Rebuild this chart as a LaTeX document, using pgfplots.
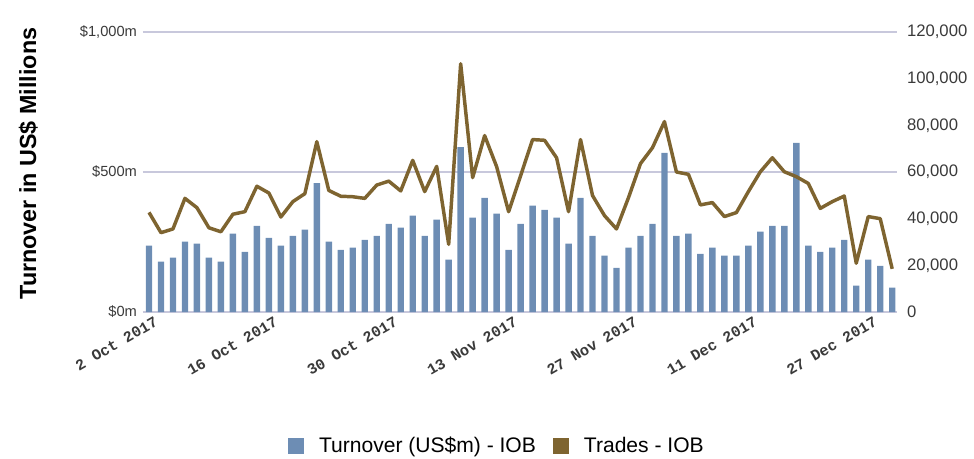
\documentclass[border=0pt]{standalone}
\usepackage{fontspec}
\setmainfont{Liberation Sans}
\newfontfamily\monob{Liberation Mono}
\usepackage{pgfplots}
\pgfplotsset{compat=1.18}
\usepackage{pgfplotstable}

\definecolor{cBar}{HTML}{6D8DB4}
\definecolor{cLine}{HTML}{7E6430}
\definecolor{cGrid}{HTML}{C8C8DC}
\definecolor{cTick}{HTML}{3A3A3A}

% turnover (US$m), one row per trading day from 2 Oct 2017
\pgfplotstableread{
x y
0 237
1 180
2 194
3 251
4 244
5 194
6 180
7 280
8 215
9 308
10 265
11 237
12 272
13 294
14 460
15 251
16 222
17 230
18 258
19 272
20 315
21 301
22 344
23 272
24 330
25 187
26 589
27 337
28 408
29 351
30 222
31 315
32 380
33 365
34 337
35 244
36 408
37 272
38 201
39 158
40 230
41 272
42 315
43 568
44 272
45 280
46 208
47 230
48 201
49 201
50 237
51 287
52 308
53 308
54 604
55 237
56 215
57 230
58 258
59 94
60 187
61 165
62 87
}\turnover

% number of trades
\pgfplotstableread{
x y
0 42700
1 34000
2 35600
3 48700
4 44700
5 36100
6 34400
7 41900
8 43000
9 53900
10 51000
11 40700
12 47300
13 50700
14 73000
15 52100
16 49600
17 49400
18 48700
19 54400
20 56100
21 51900
22 65000
23 51600
24 62400
25 29000
26 106400
27 57600
28 75600
29 62300
30 43000
31 58400
32 73900
33 73600
34 66100
35 43000
36 73900
37 49900
38 41300
39 35600
40 49000
41 63600
42 70400
43 81600
44 60000
45 59000
46 45900
47 46900
48 40900
49 42600
50 51600
51 60100
52 66100
53 60100
54 58000
55 55100
56 44400
57 47300
58 49700
59 20900
60 40900
61 40000
62 18500
}\trades

\begin{document}
\begin{tikzpicture}
  \pgfplotsset{
    base/.style={
      scale only axis, width=565.5pt, height=210pt,
      at={(0,0)}, anchor=south west,
      xmin=-0.5, xmax=62.4,
      axis line style={draw=none}, major tick length=0pt,
      tick label style={font=\fontsize{11}{13}\selectfont, text=cTick},
    },
  }
  \begin{axis}[base,
      ymin=0, ymax=1000,
      ytick={0,500,1000}, yticklabels={\$0m,\$500m,{\$1,000m}},
      ymajorgrids, grid style={cGrid, line width=1pt},
      yticklabel style={xshift=-1pt},
      ylabel={\bfseries Turnover in US\$ Millions},
      ylabel style={at={(axis description cs:-0.152,0.53)}, anchor=center,
                    font=\fontsize{17.5}{19}\selectfont},
      xtick={0,10,20,30,40,50,60},
      xticklabels={2 Oct 2017,16 Oct 2017,30 Oct 2017,13 Nov 2017,
                   27 Nov 2017,11 Dec 2017,27 Dec 2017},
      xticklabel style={rotate=30, anchor=north east, xshift=5pt, yshift=-1pt,
                        font=\monob\bfseries\fontsize{11.5}{13}\selectfont, text=cTick},
    ]
    \addplot[ybar, bar width=4.8pt, fill=cBar, draw=none] table {\turnover};
  \end{axis}
  \begin{axis}[base,
      ymin=0, ymax=120000,
      axis y line*=right, axis x line=none,
      scaled y ticks=false,
      ytick={0,20000,40000,60000,80000,100000,120000},
      yticklabels={0,{20,000},{40,000},{60,000},{80,000},{100,000},{120,000}},
      yticklabel style={anchor=west, xshift=4pt, font=\fontsize{12.5}{14}\selectfont},
      xtick=\empty,
      legend style={at={(axis description cs:0.47,0)}, anchor=center,
                    yshift=-100.5pt, draw=none, fill=none,
                    legend columns=2, font=\fontsize{15.8}{18}\selectfont,
                    column sep=0pt,
                    /tikz/every odd column/.append style={column sep=9pt},
                    /tikz/every even column/.append style={column sep=11pt}},
      legend image code/.code={\fill[#1] (0pt,-6pt) rectangle (12pt,6pt);},
    ]
    \addplot[cLine, line width=2.6pt, line join=round, forget plot] table {\trades};
    \addlegendimage{fill=cBar, draw=none}
    \addlegendentry{Turnover (US\$m) - IOB}
    \addlegendimage{fill=cLine, draw=none}
    \addlegendentry{Trades - IOB}
  \end{axis}
  \pgfresetboundingbox
  \path (-107.25pt,-109.5pt) rectangle (623.25pt,234pt);
\end{tikzpicture}
\end{document}
